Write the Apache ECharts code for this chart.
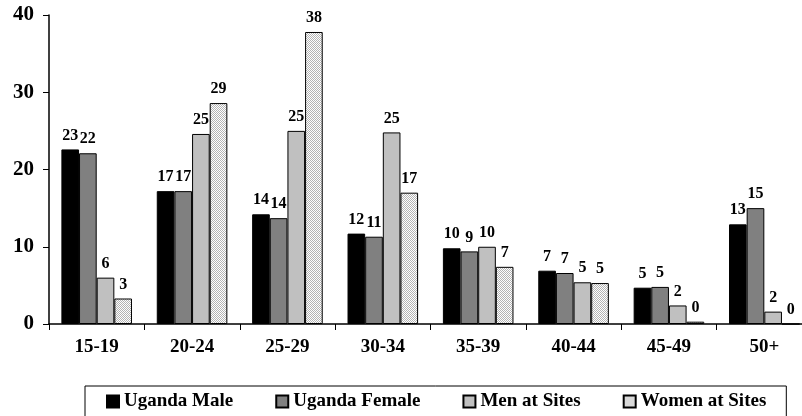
<!DOCTYPE html>
<html>
<head>
<meta charset="utf-8">
<script src="https://cdn.jsdelivr.net/npm/echarts@6/dist/echarts.min.js"></script>
<style>
  html, body { margin: 0; padding: 0; background: #fff; }
  #chart { width: 802px; height: 416px; }
</style>
</head>
<body>
<div id="chart"></div>
<script>
const categories = ["15-19", "20-24", "25-29", "30-34", "35-39", "40-44", "45-49", "50+"];
const ugandaMale = [22.6, 17.2, 14.2, 11.7, 9.8, 6.9, 4.7, 12.9];
const ugandaFemale = [22.1, 17.2, 13.7, 11.3, 9.4, 6.6, 4.8, 15.0];
const menAtSites = [6.0, 24.6, 25.0, 24.8, 10.0, 5.4, 2.4, 1.6];
const womenAtSites = [3.3, 28.6, 37.8, 17.0, 7.4, 5.3, 0.3, 0];
const yTicks = [0, 10, 20, 30, 40];

const font = "'Liberation Serif', 'Times New Roman', serif";

// dotted fill for "Women at Sites"
function dotPattern() {
  const c = document.createElement("canvas");
  c.width = 2;
  c.height = 2;
  const ctx = c.getContext("2d");
  ctx.fillStyle = "#fff";
  ctx.fillRect(0, 0, 2, 2);
  ctx.fillStyle = "#b4b4b4";
  ctx.fillRect(0, 0, 1, 1);
  ctx.fillRect(1, 1, 1, 1);
  return { image: c, repeat: "repeat" };
}

function makeSeries(name, data, color) {
  return {
    name,
    type: "bar",
    data,
    barGap: "0%",
    barCategoryGap: "26%",
    itemStyle: { color, borderColor: "#000", borderWidth: 1 },
    label: {
      show: true,
      position: "top",
      distance: 6,
      color: "#000",
      fontFamily: font,
      fontWeight: "bold",
      fontSize: 16,
      formatter: (p) => Math.round(p.value),
    },
  };
}

const chart = echarts.init(document.getElementById("chart"));
chart.setOption({
  animation: false,
  backgroundColor: "#fff",
  grid: { top: 15, left: 49, width: 763, height: 309, outerBoundsMode: "none" },
  xAxis: {
    type: "category",
    data: categories,
    axisLine: { lineStyle: { color: "#000", width: 1.5 } },
    axisTick: { show: true, length: 6, inside: false, lineStyle: { color: "#000" } },
    axisLabel: {
      color: "#000",
      fontFamily: font,
      fontWeight: "bold",
      fontSize: 19,
      margin: 14,
    },
  },
  yAxis: {
    type: "value",
    min: yTicks[0],
    max: yTicks[yTicks.length - 1],
    interval: 10,
    splitLine: { show: false },
    axisLine: { show: true, lineStyle: { color: "#000", width: 1.5 } },
    axisTick: { show: true, length: 6, lineStyle: { color: "#000" } },
    axisLabel: {
      color: "#000",
      fontFamily: font,
      fontWeight: "bold",
      fontSize: 21,
      margin: 15,
    },
  },
  legend: {
    left: 85,
    top: 386,
    orient: "horizontal",
    itemWidth: 12,
    itemHeight: 12,
    itemGap: 42,
    padding: [6, 20, 8, 21],
    borderColor: "#000",
    borderWidth: 1,
    borderRadius: 0,
    icon: "rect",
    textStyle: {
      color: "#000",
      fontFamily: font,
      fontWeight: "bold",
      fontSize: 19,
    },
  },
  series: [
    makeSeries("Uganda Male", ugandaMale, "#000"),
    makeSeries("Uganda Female", ugandaFemale, "#808080"),
    makeSeries("Men at Sites", menAtSites, "#c0c0c0"),
    makeSeries("Women at Sites", womenAtSites, dotPattern()),
  ],
});
</script>
</body>
</html>
